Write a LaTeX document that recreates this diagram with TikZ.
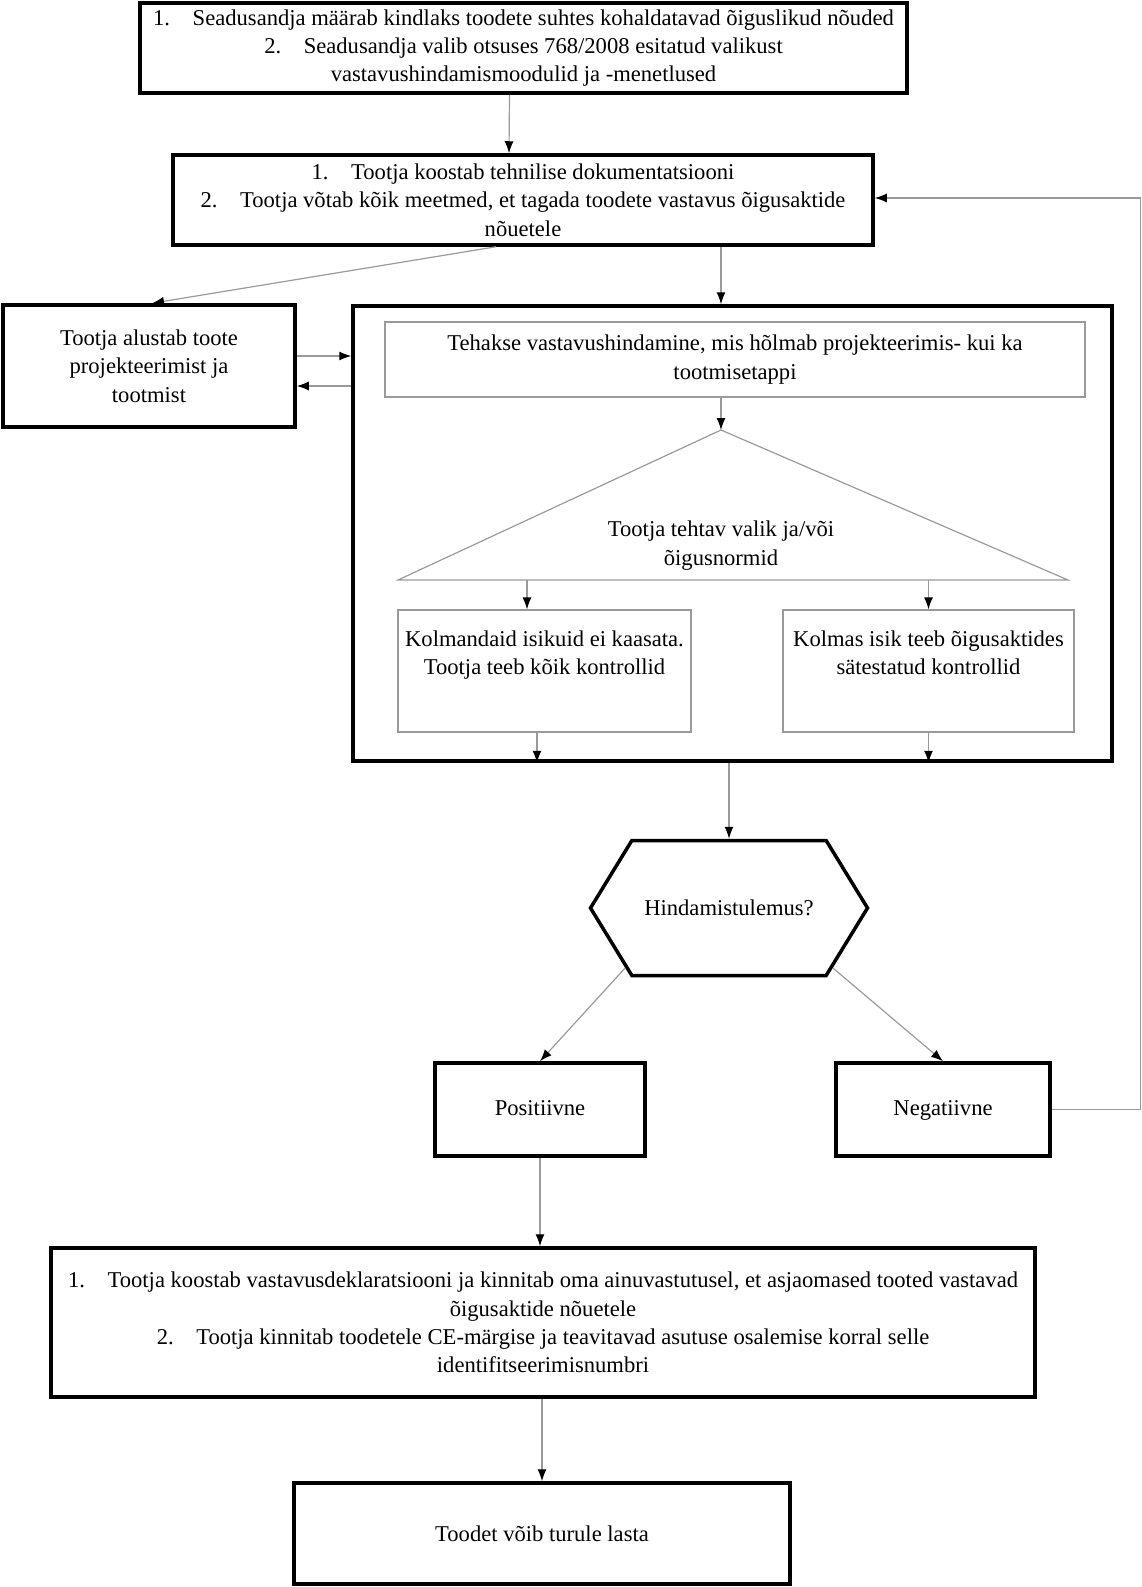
\documentclass[tikz,border=0pt]{standalone}
\usepackage{fontspec}
\setmainfont{Liberation Serif}
\usepackage{tikz}
\usetikzlibrary{arrows.meta,positioning,shapes.symbols,calc}
\definecolor{fcline}{HTML}{9A9A9A}
\tikzset{
  box/.style={rectangle, draw=black, line width=3.5pt, fill=white,
              align=center, inner sep=4pt},
  thinbox/.style={rectangle, draw=fcline, line width=1.2pt,
                  align=center, inner sep=4pt},
  hexa/.style={signal, signal to=west and east, signal pointer angle=117,
               draw=black, line width=3.5pt, fill=white, align=center, inner sep=4pt},
  ar/.style={-{Latex[length=12pt,width=9pt,color=black]}, draw=fcline, line width=1.2pt},
}
\begin{document}
\begin{tikzpicture}[x=1pt,y=-1pt,font=\fontsize{22.6}{28.4}\selectfont]
\useasboundingbox (0,0) rectangle (1142,1587);
% --- top: legislator and manufacturer
\node[box,minimum width=767pt,minimum height=90pt] (law) at (523.5,48)
  {1.\hspace{1em}Seadusandja määrab kindlaks toodete suhtes kohaldatavad õiguslikud nõuded\\
   2.\hspace{1em}Seadusandja valib otsuses 768/2008 esitatud valikust\\
   vastavushindamismoodulid ja -menetlused};
\node[box,minimum width=700pt,minimum height=90pt] (docs) at (523,200)
  {1.\hspace{1em}Tootja koostab tehnilise dokumentatsiooni\\
   2.\hspace{1em}Tootja võtab kõik meetmed, et tagada toodete vastavus õigusaktide\\
   nõuetele};
\node[box,minimum width=292pt,minimum height=122pt] (start) at (149,366)
  {Tootja alustab toote\\projekteerimist ja\\tootmist};

% --- assessment block
\node[box,fill=none,minimum width=759pt,minimum height=455pt] (assess) at (732.5,533.5) {};
\node[thinbox,minimum width=700pt,minimum height=75pt] (phase) at (735,359.5)
  {Tehakse vastavushindamine, mis hõlmab projekteerimis- kui ka\\tootmisetappi};
\coordinate (apex) at (721,430);
\coordinate (bl) at (398,580);
\coordinate (br) at (1068,580);
\draw[fcline,line width=1.2pt] (apex) -- (br) -- (bl) -- cycle;
\node[align=center] (choice) at (721,545.5) {Tootja tehtav valik ja/või\\õigusnormid};
\node[thinbox,minimum width=293pt,minimum height=122pt] (own) at (544.5,671)
  {Kolmandaid isikuid ei kaasata.\\Tootja teeb kõik kontrollid\\ \strut};
\node[thinbox,minimum width=291pt,minimum height=122pt] (third) at (928.5,671)
  {Kolmas isik teeb õigusaktides\\sätestatud kontrollid\\ \strut};

% --- result
\node[hexa,minimum width=277pt,minimum height=135pt] (res) at (729,908) {Hindamistulemus?};
\node[box,minimum width=210pt,minimum height=93pt] (pos) at (540,1109.5) {\strut Positiivne};
\node[box,minimum width=214pt,minimum height=93pt] (neg) at (943,1109.5) {\strut Negatiivne};
\node[box,minimum width=984pt,minimum height=149pt] (decl) at (543,1322.5)
  {1.\hspace{1em}Tootja koostab vastavusdeklaratsiooni ja kinnitab oma ainuvastutusel, et asjaomased tooted vastavad\\
   õigusaktide nõuetele\\
   2.\hspace{1em}Tootja kinnitab toodetele CE-märgise ja teavitavad asutuse osalemise korral selle\\
   identifitseerimisnumbri};
\node[box,minimum width=496pt,minimum height=101pt] (market) at (542,1533.5) {Toodet võib turule lasta};

% --- connectors
\draw[ar] ([xshift=-14pt]law.south) -- ([xshift=-14pt]docs.north);
\draw[ar] ([xshift=-27pt]docs.south) -- ([xshift=3pt]start.north);
\draw[ar] (docs.south -| apex) -- (assess.north -| apex);
\draw[ar] ([yshift=10pt]start.east) -- ([yshift=10pt]start.east -| assess.west);
\draw[ar] ([yshift=-20pt]start.east -| assess.west) -- ([yshift=-20pt]start.east);
\draw[ar] (phase.south -| apex) -- (apex);
\draw[ar] ([xshift=-17.5pt]own.north |- bl) -- ([xshift=-17.5pt]own.north);
\draw[ar] (third.north |- br) -- (third.north);
\draw[ar] ([xshift=-7.5pt]own.south) -- ([xshift=-7.5pt]own.south |- assess.south);
\draw[ar] (third.south) -- (third.south |- assess.south);
\draw[ar] (assess.south -| res.north) -- (res.north);
\draw[ar] (res.-150) -- (pos.north);
\draw[ar] (res.-30) -- (neg.north);
\draw[ar] (neg.east) -- ++(89,0) |- ([yshift=2pt]docs.east);
\draw[ar] (pos.south) -- (pos.south |- decl.north);
\draw[ar] (decl.south -| market.north) -- (market.north);
\end{tikzpicture}
\end{document}
